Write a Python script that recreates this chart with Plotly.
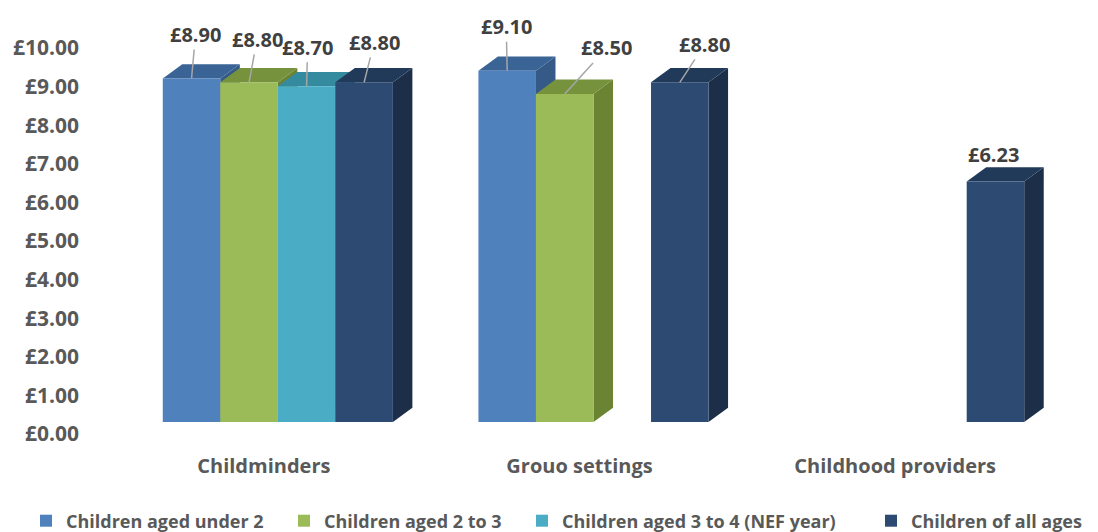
import plotly.graph_objects as go

categories = ["Childminders", "Grouo settings", "Childhood providers"]
series_names = ["Children aged under 2", "Children aged 2 to 3",
                "Children aged 3 to 4 (NEF year)", "Children of all ages"]
under_2 = [8.90, 9.10, None]
aged_2_to_3 = [8.80, 8.50, None]
aged_3_to_4 = [8.70, None, None]
all_ages = [8.80, 8.80, 6.23]
series_values = [under_2, aged_2_to_3, aged_3_to_4, all_ages]

front_colors = ["#4F81BD", "#9BBB59", "#4BACC6", "#2C4A72"]
top_colors = ["#3A6396", "#76923C", "#348A9F", "#223A5A"]
side_colors = ["#355A88", "#6A8433", "#2E7B8E", "#1D2F48"]

# label offsets (pixels) from the bar top to the label centre
label_offsets = {
    (0, 0): (4, -44), (1, 0): (8, -43), (2, 0): (1, -39), (3, 0): (10, -40),
    (0, 1): (-1, -44), (1, 1): (42, -46), (3, 1): (25, -38), (3, 2): (-2, -27),
}
no_leader = {(3, 2)}
# left edge (px) of each legend entry
legend_left_px = [26, 284, 522, 871]

W, H = 1098, 532
ml, mr, mt, mb = 120, 31, 17, 110
x_range = [-0.5, 2.5]
px_per_unit = 38.6
plot_h = H - mt - mb
y_max = plot_h / px_per_unit
plot_w = W - ml - mr
px_per_cat = plot_w / (x_range[1] - x_range[0])

bargap = 0.271
n = len(series_names)
slot = (1 - bargap) / n
depth_dx = 19.5 / px_per_cat
depth_dy = 14.3 / px_per_unit

label_font = dict(family="Open Sans", size=20, color="#404040", weight="bold")
legend_font = dict(family="Open Sans", size=18, color="#595959", weight="bold")

fig = go.Figure()
x_pos = list(range(len(categories)))
legend_ids = ["legend", "legend2", "legend3", "legend4"]
for i, (name, vals) in enumerate(zip(series_names, series_values)):
    fig.add_trace(go.Bar(
        x=x_pos, y=vals, name=name, legend=legend_ids[i],
        marker=dict(color=front_colors[i], line=dict(width=0)),
        hoverinfo="skip",
    ))

shapes = []
annotations = []
for c in range(len(categories)):
    for i in range(n):
        v = series_values[i][c]
        if v is None:
            continue
        x0 = c - (1 - bargap) / 2 + i * slot
        x1 = x0 + slot
        # side face
        shapes.append(dict(
            type="path", xref="x", yref="y", layer="below",
            path=f"M {x1},0 L {x1 + depth_dx},{depth_dy} L {x1 + depth_dx},{v + depth_dy} L {x1},{v} Z",
            fillcolor=side_colors[i], line=dict(width=0)))
        # top face
        shapes.append(dict(
            type="path", xref="x", yref="y", layer="below",
            path=f"M {x0},{v} L {x1},{v} L {x1 + depth_dx},{v + depth_dy} L {x0 + depth_dx},{v + depth_dy} Z",
            fillcolor=top_colors[i], line=dict(width=0)))
        ax, ay = label_offsets[(i, c)]
        if (i, c) in no_leader:
            annotations.append(dict(
                x=(x0 + x1) / 2, y=v, xref="x", yref="y",
                text=f"£{v:.2f}", showarrow=False,
                xshift=ax, yshift=-ay, font=label_font))
        else:
            annotations.append(dict(
                x=(x0 + x1) / 2, y=v, xref="x", yref="y",
                text=f"£{v:.2f}", showarrow=True,
                arrowhead=0, arrowwidth=1.5, arrowcolor="#A6A6A6",
                ax=ax, ay=ay, standoff=0, font=label_font))

legend_layout = {}
for i, lid in enumerate(legend_ids):
    legend_layout[lid] = dict(
        orientation="h", x=legend_left_px[i] / W, xanchor="left", xref="container",
        y=1 - 521 / H, yanchor="middle", yref="container",
        font=legend_font, itemwidth=30, bgcolor="rgba(0,0,0,0)")

fig.update_layout(
    width=W, height=H,
    margin=dict(l=ml, r=mr, t=mt, b=mb, autoexpand=False),
    plot_bgcolor="white", paper_bgcolor="white",
    barmode="group", bargap=bargap, bargroupgap=0,
    shapes=shapes, annotations=annotations,
    font=dict(family="Open Sans", color="#595959"),
    showlegend=True,
    xaxis=dict(range=x_range, tickvals=x_pos, ticktext=categories,
               showgrid=False, zeroline=False, showline=False, ticks="",
               tickfont=dict(family="Open Sans", size=20, color="#595959", weight="bold"),
               ticklabelshift=-14, ticklabelstandoff=30),
    yaxis=dict(range=[0, y_max], tickvals=list(range(11)),
               ticktext=[f"£{t:.2f}" for t in range(11)],
               showgrid=False, zeroline=False, showline=False, ticks="",
               tickfont=dict(family="Open Sans", size=21, color="#595959", weight="bold"),
               ticklabelshift=12, ticklabelstandoff=40),
    **legend_layout,
)

fig.write_html("out.html")
